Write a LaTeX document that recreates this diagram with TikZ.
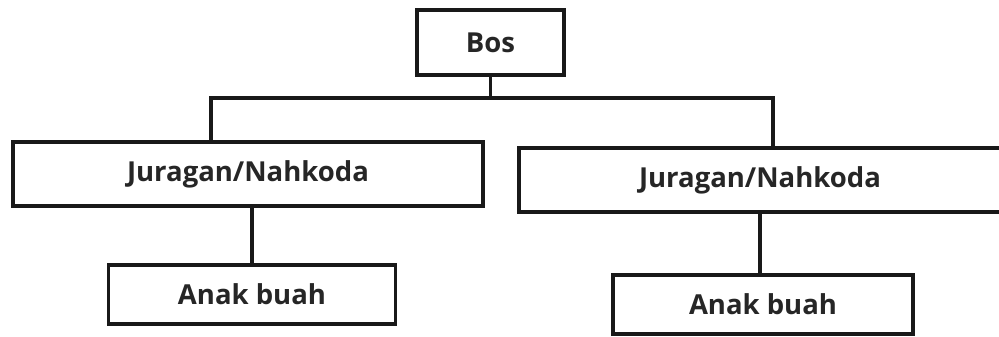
\documentclass[tikz,border=0pt]{standalone}
\usepackage{fontspec}
\setmainfont{Open Sans}
\usetikzlibrary{calc}

\begin{document}
\begin{tikzpicture}[x=1pt,y=-1pt,
    box/.style={draw=black!90,line width=3.6pt,inner sep=0pt,
      font=\fontsize{27.5}{32}\selectfont\bfseries,text=black!85},
    link/.style={draw=black!90,line width=3.4pt}]
  \useasboundingbox (0,0) rectangle (999,337);
  % top of the tree
  \node[box,minimum width=147pt,minimum height=65pt] (bos) at (490.5,42.5) {Bos};
  \coordinate (barL) at (211,98);
  \coordinate (barR) at (773,98);
  % second row
  \node[box,minimum width=470pt,minimum height=64pt] (jl) at (248,174) {Juragan/Nahkoda};
  \node[box,minimum width=482pt,minimum height=64pt] (jr) at (760,180) {Juragan/Nahkoda};
  % bottom row
  \node[box,minimum width=287pt,minimum height=59pt] (al) at (252,294.5) {Anak buah};
  \node[box,minimum width=300pt,minimum height=59pt] (ar) at (763,304.5) {Anak buah};
  \draw[link] (bos.south) -- (bos.south |- barL);
  \draw[link] (jl.north -| barL) -- (barL) -- (barR) -- (jr.north -| barR);
  \draw[link] (jl.south -| al.north) -- (al.north);
  \draw[link] (jr.south) -- (jr.south |- ar.north);
\end{tikzpicture}
\end{document}
